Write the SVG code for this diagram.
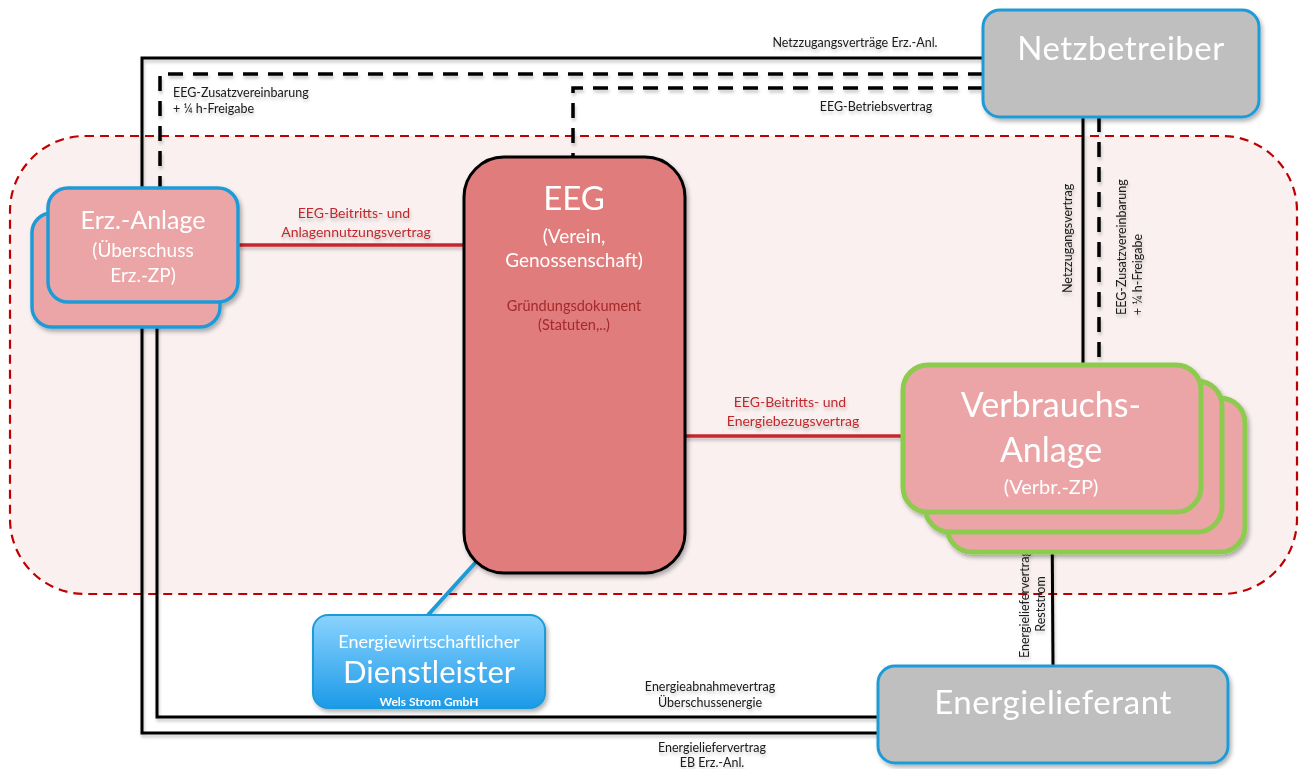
<svg xmlns="http://www.w3.org/2000/svg" width="1299" height="769" viewBox="0 0 1299 769">
<defs>
<style>
.t{font-family:Lato,"Liberation Sans",sans-serif;}
.w{fill:#ffffff;text-anchor:middle;}
.s{font-size:12.5px;fill:#1a1a1a;}
.r{font-size:14px;fill:#C0282D;text-anchor:middle;}
.blk{fill:none;stroke:#000;stroke-width:3;}
.dsh{fill:none;stroke:#000;stroke-width:3.5;stroke-dasharray:15 10;}
.red{fill:none;stroke:#C8282D;stroke-width:3.5;}
.pink{fill:#EBA5A7;}
.grey{fill:#BFBFBF;stroke:#1F9BD7;stroke-width:3;}
</style>
<filter id="sh" x="-10%" y="-10%" width="130%" height="130%">
<feDropShadow dx="2" dy="3" stdDeviation="2" flood-color="#000" flood-opacity="0.3"/>
</filter>
<filter id="lsh" x="-5%" y="-5%" width="110%" height="110%">
<feDropShadow dx="1" dy="3" stdDeviation="1.5" flood-color="#000" flood-opacity="0.2"/>
</filter>
<linearGradient id="bg" x1="0" y1="0" x2="0" y2="1">
<stop offset="0" stop-color="#8AD3FE"/>
<stop offset="1" stop-color="#1C9AE8"/>
</linearGradient>
</defs>
<rect width="1299" height="769" fill="#ffffff"/>

<g id="eeg-bereich">
<rect x="10" y="136" width="1287" height="458" rx="75" fill="#FAF0F0" stroke="#C00000" stroke-width="2.2" stroke-dasharray="9 6"/>
</g>

<g id="connectors" filter="url(#lsh)">
<path class="blk" d="M983,58 H142 V733 H878"/>
<path class="blk" d="M157,302 V717 H878"/>
<path class="dsh" d="M983,74 H160 V188"/>
<path class="dsh" d="M983,88 H573 V157"/>
<path class="blk" d="M1083,117 V365"/>
<path class="dsh" d="M1099,117 V365"/>
<path class="red" d="M238,245 H464"/>
<path class="red" d="M685,436 H903"/>
<path class="blk" d="M1052,510 L1053,666"/>
<path fill="none" stroke="#1F9BD7" stroke-width="4" d="M476,562 L428,615"/>
<g class="t">
<text class="s" x="855" y="47" text-anchor="middle">Netzzugangsverträge Erz.-Anl.</text>
<text class="s" x="173" y="97">EEG-Zusatzvereinbarung</text>
<text class="s" x="173" y="113">+ ¼ h-Freigabe</text>
<text class="s" x="876" y="111" text-anchor="middle">EEG-Betriebsvertrag</text>
<text class="s" transform="translate(1072,293) rotate(-90)">Netzzugangsvertrag</text>
<text class="s" transform="translate(1126,315) rotate(-90)">EEG-Zusatzvereinbarung</text>
<text class="s" transform="translate(1142,315) rotate(-90)">+ ¼ h-Freigabe</text>
<text class="s" transform="translate(1029,604) rotate(-90)" text-anchor="middle">Energieliefervertrag</text>
<text class="s" transform="translate(1045,604) rotate(-90)" text-anchor="middle">Reststrom</text>
<text class="s" x="710" y="691" text-anchor="middle">Energieabnahmevertrag</text>
<text class="s" x="710" y="707" text-anchor="middle">Überschussenergie</text>
<text class="s" x="712" y="752" text-anchor="middle">Energieliefervertrag</text>
<text class="s" x="712" y="767" text-anchor="middle">EB Erz.-Anl.</text>
<text class="r" x="354" y="218">EEG-Beitritts- und</text>
<text class="r" x="356" y="237">Anlagennutzungsvertrag</text>
<text class="r" x="790" y="407">EEG-Beitritts- und</text>
<text class="r" x="793" y="426">Energiebezugsvertrag</text>
</g>
</g>

<g id="netzbetreiber" filter="url(#sh)">
<rect class="grey" x="983" y="10" width="276" height="107" rx="17"/>
<text class="t w" x="1121" y="60" font-size="33" letter-spacing="0.5">Netzbetreiber</text>
</g>

<g id="erz-anlage" filter="url(#sh)">
<rect class="pink" x="32" y="213" width="188" height="114" rx="20" stroke="#1F9BD7" stroke-width="3.5"/>
<rect class="pink" x="48" y="188" width="190" height="114" rx="20" stroke="#1F9BD7" stroke-width="3.5"/>
<text class="t w" x="143" y="229" font-size="25">Erz.-Anlage</text>
<text class="t w" x="143" y="257" font-size="19">(Überschuss</text>
<text class="t w" x="143" y="282" font-size="19">Erz.-ZP)</text>
</g>

<g id="eeg" filter="url(#sh)">
<rect x="464" y="157" width="221" height="416" rx="40" fill="#E07B7B" stroke="#000" stroke-width="3"/>
<text class="t w" x="574" y="210" font-size="33">EEG</text>
<text class="t w" x="574" y="243" font-size="19">(Verein,</text>
<text class="t w" x="574" y="267" font-size="19">Genossenschaft)</text>
<text class="t" x="574" y="311" font-size="14.5" fill="#A52A2D" text-anchor="middle">Gründungsdokument</text>
<text class="t" x="574" y="330" font-size="14.5" fill="#A52A2D" text-anchor="middle">(Statuten,..)</text>
</g>

<g id="verbrauchs-anlage" filter="url(#sh)">
<rect class="pink" x="947" y="398" width="298" height="154" rx="25" stroke="#8DCB50" stroke-width="5"/>
<rect class="pink" x="925" y="381" width="297" height="151" rx="25" stroke="#8DCB50" stroke-width="5"/>
<rect class="pink" x="903" y="365" width="298" height="147" rx="25" stroke="#8DCB50" stroke-width="5"/>
<text class="t w" x="1051" y="417" font-size="34">Verbrauchs-</text>
<text class="t w" x="1051" y="462" font-size="34">Anlage</text>
<text class="t w" x="1051" y="494" font-size="20">(Verbr.-ZP)</text>
</g>

<g id="energielieferant" filter="url(#sh)">
<rect class="grey" x="878" y="666" width="350" height="97" rx="17"/>
<text class="t w" x="1053" y="714" font-size="33" letter-spacing="0.6">Energielieferant</text>
</g>

<g id="dienstleister" filter="url(#sh)">
<rect x="313" y="615" width="232" height="93" rx="15" fill="url(#bg)" stroke="#1F9BD7" stroke-width="2"/>
<text class="t w" x="429" y="648" font-size="18">Energiewirtschaftlicher</text>
<text class="t w" x="429" y="683" font-size="31">Dienstleister</text>
<text class="t w" x="429" y="706" font-size="12" font-weight="bold">Wels Strom GmbH</text>
</g>
</svg>
